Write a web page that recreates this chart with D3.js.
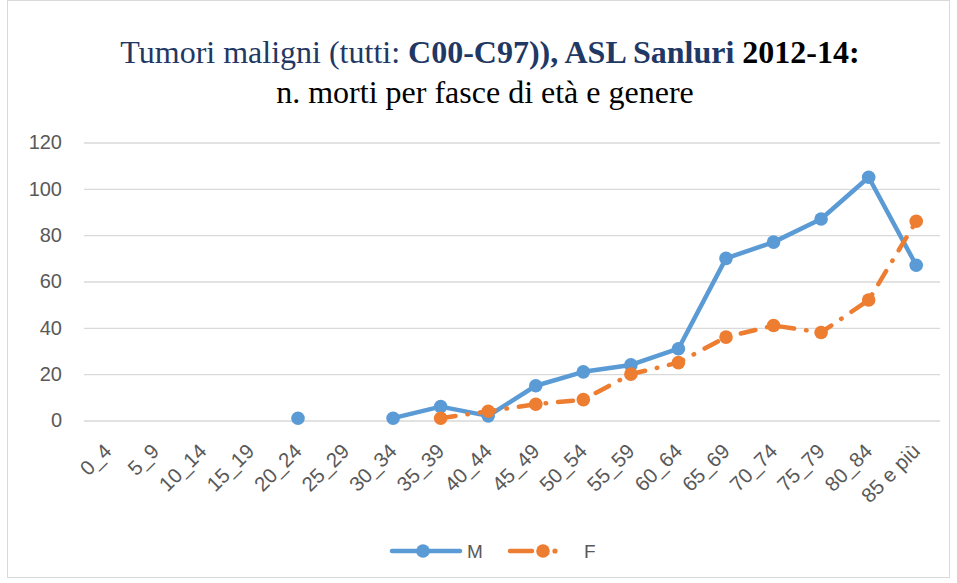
<!DOCTYPE html>
<html><head><meta charset="utf-8">
<script src="https://cdn.jsdelivr.net/npm/d3@7"></script>
<style>body{margin:0;background:#fff}svg{display:block}</style>
</head><body>
<svg id="c" width="957" height="583"></svg>
<script>
const categories = ["0_4","5_9","10_14","15_19","20_24","25_29","30_34","35_39","40_44","45_49","50_54","55_59","60_64","65_69","70_74","75_79","80_84","85 e più"];
const maleValues = [null,null,null,null,1,null,1,6,2,15,21,24,31,70,77,87,105,67];
const femaleValues = [null,null,null,null,null,null,null,1,4,7,9,20,25,36,41,38,52,86];
const yTicks = [0,20,40,60,80,100,120];
const seriesNames = ["M","F"];

const svg = d3.select("#c");
const blue = "#5B9BD5", orange = "#ED7D31";
const txtCol = "#595959";
const sans = "'Liberation Sans',Arial,sans-serif";
const serif = "'Liberation Serif','Times New Roman',serif";

svg.append("rect").attr("x",7.5).attr("y",0.5).attr("width",942).attr("height",577)
  .attr("fill","#fff").attr("stroke","#d9d9d9").attr("stroke-width",1);

// Title
const t1 = svg.append("text").attr("x",490).attr("y",63).attr("text-anchor","middle")
  .attr("font-family",serif).attr("font-size",32);
t1.append("tspan").attr("fill","#1F3864").text("Tumori maligni (tutti: ");
t1.append("tspan").attr("fill","#1F3864").attr("font-weight","bold").text("C00-C97)), ASL Sanluri");
t1.append("tspan").attr("fill","#000").attr("font-weight","bold").text(" 2012-14:");
svg.append("text").attr("x",485).attr("y",103).attr("text-anchor","middle")
  .attr("font-family",serif).attr("font-size",32)
  .attr("fill","#000").text("n. morti per fasce di età e genere");

const x = d3.scaleBand().domain(categories).range([84,940]);
const y = d3.scaleLinear().domain([0,120]).range([420.5,142.5]);
const cx = c => x(c) + x.bandwidth()/2;

// grid + y labels
const yAxis = d3.axisLeft(y).tickValues(yTicks).tickSize(-(940-84)).tickPadding(22);
const gy = svg.append("g").attr("transform","translate(84,0)").call(yAxis);
gy.select(".domain").remove();
gy.selectAll(".tick line").attr("stroke","#d9d9d9").attr("stroke-width",1.3);
gy.selectAll(".tick text").attr("fill",txtCol).attr("font-family",sans).attr("font-size",20);

// x axis labels
const xAxis = d3.axisBottom(x).tickSize(0).tickPadding(0);
const gx = svg.append("g").attr("transform","translate(0,420.5)").call(xAxis);
gx.select(".domain").remove();
gx.selectAll(".tick text").attr("fill",txtCol).attr("font-family",sans).attr("font-size",20.5)
  .attr("text-anchor","end").attr("dy",0)
  .attr("transform","translate(5,32) rotate(-45)");

const line = d3.line().defined(d=>d.v!=null).x(d=>cx(d.c)).y(d=>y(d.v));
const mData = categories.map((c,i)=>({c,v:maleValues[i]}));
const fData = categories.map((c,i)=>({c,v:femaleValues[i]}));
const dash = "15,12,0.5,12";

svg.append("path").datum(mData).attr("d",line).attr("fill","none").attr("stroke",blue)
  .attr("stroke-width",4.5).attr("stroke-linejoin","round");
svg.append("path").datum(fData).attr("d",line).attr("fill","none").attr("stroke",orange)
  .attr("stroke-width",4.5).attr("stroke-linecap","round").attr("stroke-dasharray",dash);

svg.append("g").selectAll("circle").data(mData.filter(d=>d.v!=null)).join("circle")
  .attr("cx",d=>cx(d.c)).attr("cy",d=>y(d.v)).attr("r",6.8).attr("fill",blue);
svg.append("g").selectAll("circle").data(fData.filter(d=>d.v!=null)).join("circle")
  .attr("cx",d=>cx(d.c)).attr("cy",d=>y(d.v)).attr("r",6.8).attr("fill",orange);

// legend
const ly = 551;
const lg = svg.append("g");
lg.append("line").attr("x1",392).attr("x2",460).attr("y1",ly).attr("y2",ly).attr("stroke",blue).attr("stroke-width",4.5).attr("stroke-linecap","round");
lg.append("circle").attr("cx",423).attr("cy",ly).attr("r",6.8).attr("fill",blue);
lg.append("text").attr("x",467).attr("y",558).attr("fill",txtCol).attr("font-family",sans).attr("font-size",19).text(seriesNames[0]);
lg.append("line").attr("x1",510).attr("x2",532).attr("y1",ly).attr("y2",ly).attr("stroke",orange).attr("stroke-width",4.5).attr("stroke-linecap","round");
lg.append("circle").attr("cx",543).attr("cy",ly).attr("r",6.8).attr("fill",orange);
lg.append("circle").attr("cx",555).attr("cy",ly).attr("r",2.6).attr("fill",orange);
lg.append("text").attr("x",584).attr("y",558).attr("fill",txtCol).attr("font-family",sans).attr("font-size",19).text(seriesNames[1]);
</script>
</body></html>
